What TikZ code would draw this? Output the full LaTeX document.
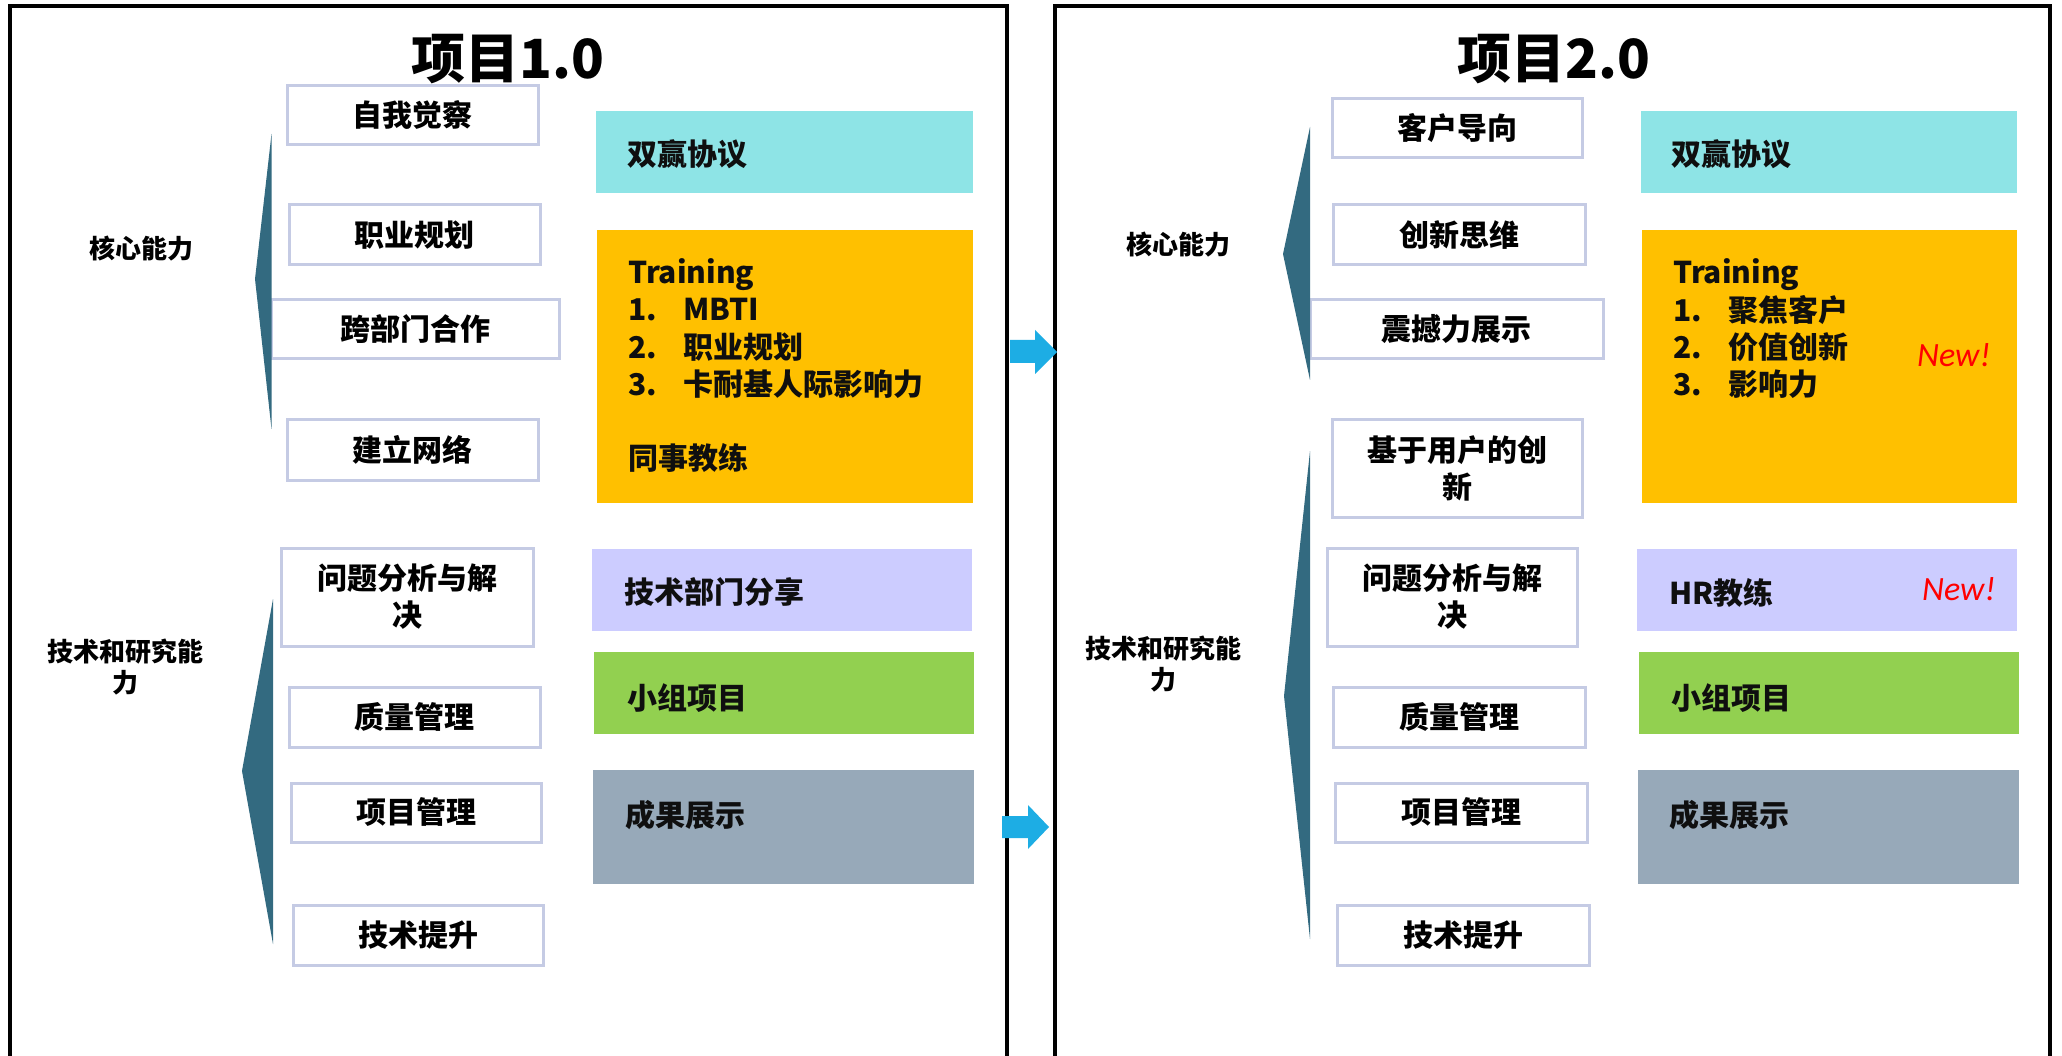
\documentclass[tikz,border=0pt]{standalone}
\usepackage{fontspec}
\setmainfont{Noto Sans CJK SC}
\newfontfamily\newfnt{Carlito}
\definecolor{boxline}{RGB}{197,203,228}
\definecolor{cyanbox}{RGB}{142,228,230}
\definecolor{orangebox}{RGB}{255,192,0}
\definecolor{lavbox}{RGB}{204,204,255}
\definecolor{greenbox}{RGB}{146,208,80}
\definecolor{graybox}{RGB}{151,169,185}
\definecolor{wedgecol}{RGB}{51,106,128}
\definecolor{arrowcol}{RGB}{29,173,228}
\definecolor{txt}{RGB}{15,15,15}
\begin{document}
\begin{tikzpicture}[x=1pt,y=-1pt,
  wbox/.style={draw=boxline, line width=3pt, fill=white, inner sep=0pt, outer sep=0pt, align=center, text=black, font=\fontsize{30}{37}\selectfont\bfseries},
  cbox/.style={inner sep=0pt, outer sep=0pt},
  lbl/.style={font=\fontsize{30}{37}\selectfont\bfseries, inner sep=0pt, anchor=base west, text=txt},
  side/.style={font=\fontsize{26}{31}\selectfont\bfseries, align=center, inner sep=0pt},
  titlelbl/.style={font=\fontsize{54}{60}\selectfont\bfseries, inner sep=0pt},
  newlbl/.style={font=\newfnt\itshape\fontsize{34}{40}\selectfont, text=red, inner sep=0pt, anchor=base west},
  frameline/.style={draw=black, line width=4pt},
  wedge/.style={fill=wedgecol},
  blockarrow/.style={fill=arrowcol}
]
\useasboundingbox (0,0) rectangle (2062,1056);
\clip (0,0) rectangle (2062,1056);
\fill[white] (0,0) rectangle (2062,1056);

% frames
\draw[frameline] (10,1080) -- (10,6) -- (1007,6) -- (1007,1080);
\draw[frameline] (1055,1080) -- (1055,6) -- (2050,6) -- (2050,1080);

% titles
\node[titlelbl] (t1) at (508,59) {项目1.0};
\node[titlelbl] (t2) at (1554,59) {项目2.0};

% left white boxes
\node[wbox, minimum width=251pt, minimum height=59pt] (a1) at (412.5,115.5) {自我觉察};
\node[wbox, minimum width=251pt, minimum height=60pt] (a2) at (414.5,235) {职业规划};
\node[wbox, minimum width=288pt, minimum height=59pt] (a3) at (415,329.5) {跨部门合作};
\node[wbox, minimum width=251pt, minimum height=60pt] (a4) at (412.5,450) {建立网络};
\node[wbox, minimum width=252pt, minimum height=98pt] (a5) at (407,597) {问题分析与解\\决};
\node[wbox, minimum width=251pt, minimum height=60pt] (a6) at (414.5,717) {质量管理};
\node[wbox, minimum width=250pt, minimum height=59pt] (a7) at (416,812.5) {项目管理};
\node[wbox, minimum width=250pt, minimum height=60pt] (a8) at (418,935) {技术提升};

% left coloured boxes
\node[cbox, fill=cyanbox, minimum width=377pt, minimum height=82pt] (c1) at (784.5,152) {};
\node[cbox, fill=orangebox, minimum width=376pt, minimum height=273pt] (c2) at (785,366.5) {};
\node[cbox, fill=lavbox, minimum width=380pt, minimum height=82pt] (c3) at (782,590) {};
\node[cbox, fill=greenbox, minimum width=380pt, minimum height=82pt] (c4) at (784,693) {};
\node[cbox, fill=graybox, minimum width=381pt, minimum height=114pt] (c5) at (783.5,827) {};

% right white boxes
\node[wbox, minimum width=250pt, minimum height=59pt] (b1) at (1457,128.5) {客户导向};
\node[wbox, minimum width=252pt, minimum height=60pt] (b2) at (1459,235) {创新思维};
\node[wbox, minimum width=293pt, minimum height=59pt] (b3) at (1456.5,329.5) {震撼力展示};
\node[wbox, minimum width=250pt, minimum height=97pt] (b4) at (1457,468.5) {基于用户的创\\新};
\node[wbox, minimum width=250pt, minimum height=98pt] (b5) at (1452,597) {问题分析与解\\决};
\node[wbox, minimum width=252pt, minimum height=60pt] (b6) at (1459,717) {质量管理};
\node[wbox, minimum width=252pt, minimum height=59pt] (b7) at (1461,812.5) {项目管理};
\node[wbox, minimum width=252pt, minimum height=60pt] (b8) at (1463,935) {技术提升};

% right coloured boxes
\node[cbox, fill=cyanbox, minimum width=376pt, minimum height=82pt] (d1) at (1829,152) {};
\node[cbox, fill=orangebox, minimum width=375pt, minimum height=273pt] (d2) at (1829.5,366.5) {};
\node[cbox, fill=lavbox, minimum width=380pt, minimum height=82pt] (d3) at (1827,590) {};
\node[cbox, fill=greenbox, minimum width=380pt, minimum height=82pt] (d4) at (1829,693) {};
\node[cbox, fill=graybox, minimum width=381pt, minimum height=114pt] (d5) at (1828.5,827) {};

% wedges
\fill[wedge] (271.5,134) -- (255,279) -- (271.5,429) -- cycle;
\fill[wedge] (273,599) -- (242,771) -- (273,944) -- cycle;
\fill[wedge] (1310,127) -- (1283,254) -- (1310,380) -- cycle;
\fill[wedge] (1310,451) -- (1284,696) -- (1310,939) -- cycle;

% side labels
\node[side, anchor=base] (k1) at (141,259) {核心能力};
\node[side] (k2) at (125,667) {技术和研究能\\力};
\node[side, anchor=base] (k3) at (1178,255) {核心能力};
\node[side] (k4) at (1163,664) {技术和研究能\\力};

% left coloured box texts
\node[lbl] (c1t) at (627,166) {双赢协议};
\node[lbl] (c2a) at (628,284) {Training};
\node[lbl] (c2b) at (628,321) {\makebox[55pt][l]{1.}MBTI};
\node[lbl] (c2c) at (628,359) {\makebox[55pt][l]{2.}职业规划};
\node[lbl] (c2d) at (628,396) {\makebox[55pt][l]{3.}卡耐基人际影响力};
\node[lbl] (c2e) at (628,469) {同事教练};
\node[lbl] (c3t) at (624,603.5) {技术部门分享};
\node[lbl] (c4t) at (627,709) {小组项目};
\node[lbl] (c5t) at (625,826.5) {成果展示};

% right coloured box texts
\node[lbl] (d1t) at (1671,166) {双赢协议};
\node[lbl] (d2a) at (1673,284) {Training};
\node[lbl] (d2b) at (1673,322) {\makebox[55pt][l]{1.}聚焦客户};
\node[lbl] (d2c) at (1673,359) {\makebox[55pt][l]{2.}价值创新};
\node[lbl] (d2d) at (1673,396) {\makebox[55pt][l]{3.}影响力};
\node[newlbl] (d2n) at (1917,367) {New!};
\node[lbl] (d3t) at (1669,604) {HR教练};
\node[newlbl] (d3n) at (1922,600) {New!};
\node[lbl] (d4t) at (1671,709) {小组项目};
\node[lbl] (d5t) at (1669,826.5) {成果展示};

% block arrows
\fill[blockarrow] (1010,340) -- (1035,340) -- (1035,330) -- (1057,352) -- (1035,374) -- (1035,363) -- (1010,363) -- cycle;
\fill[blockarrow] (1002,816) -- (1028,816) -- (1028,805) -- (1049,827) -- (1028,849) -- (1028,838) -- (1002,838) -- cycle;
\end{tikzpicture}
\end{document}
